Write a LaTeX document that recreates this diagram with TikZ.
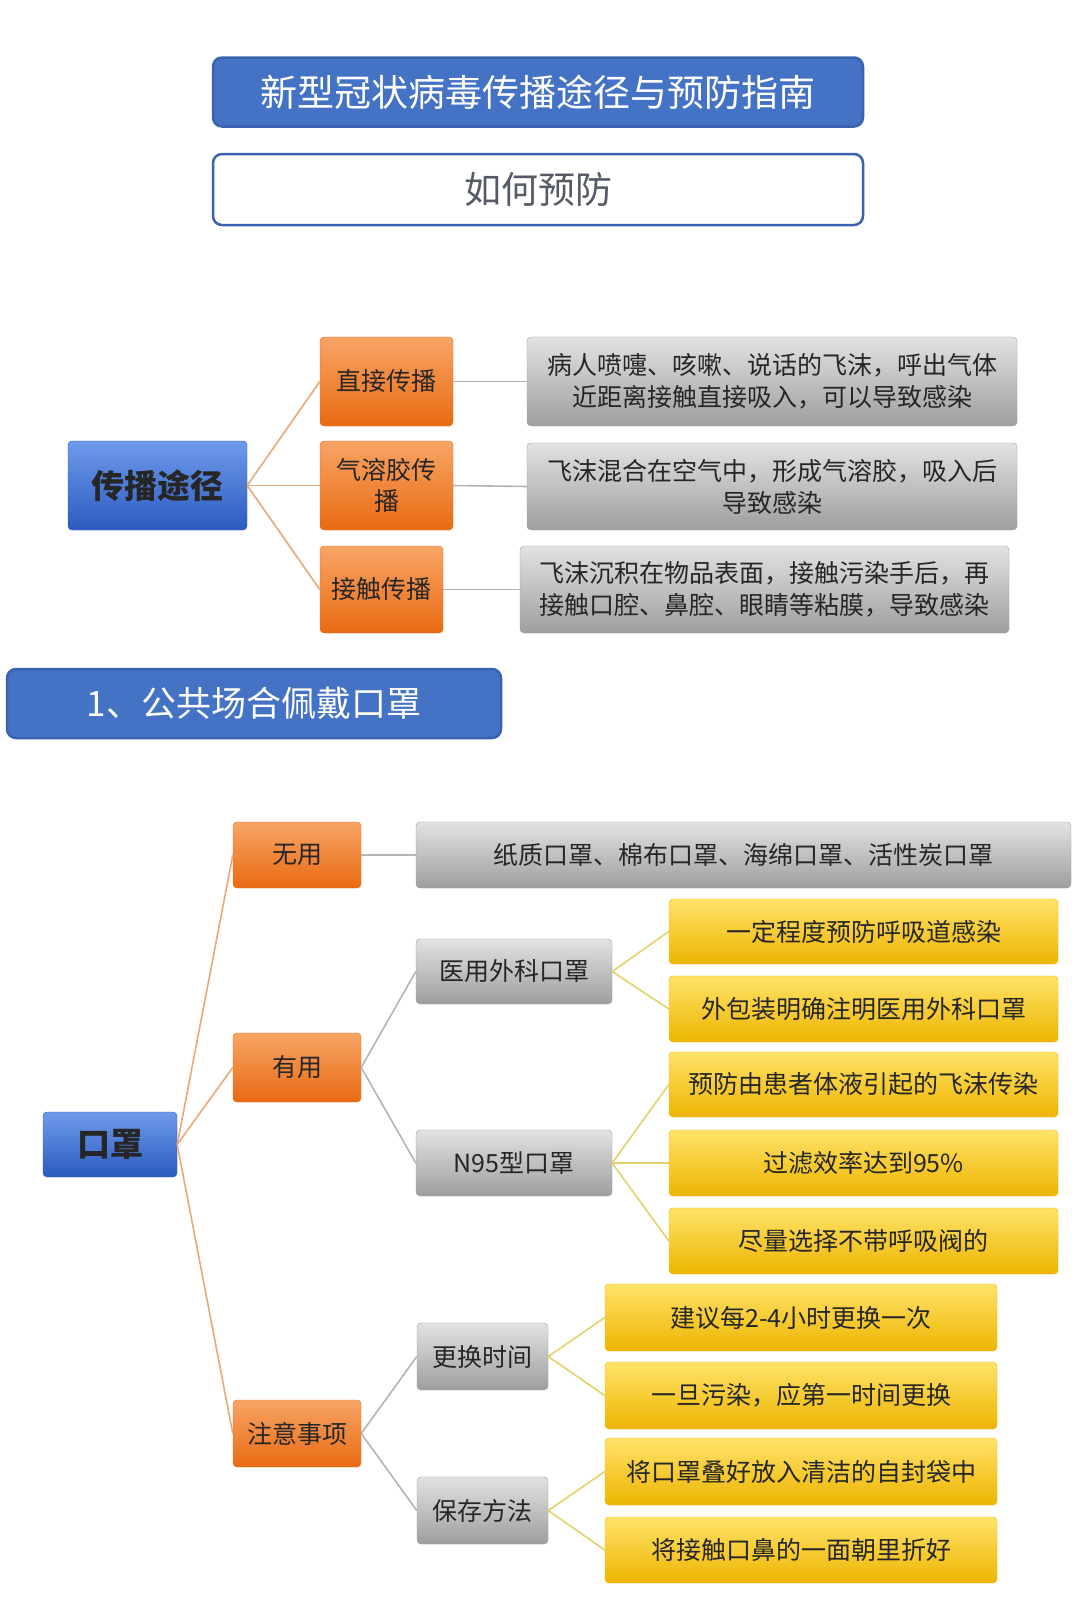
\documentclass[tikz,border=0pt]{standalone}
\usepackage{fontspec}
\setmainfont{Noto Sans CJK SC}
\usetikzlibrary{calc}

\definecolor{titleBlue}{HTML}{4472C4}
\definecolor{titleEdge}{HTML}{3A62B0}
\definecolor{subText}{HTML}{555A66}
\definecolor{rootTop}{HTML}{6E9BEA}
\definecolor{rootMid}{HTML}{3A6FD6}
\definecolor{rootBot}{HTML}{2B5AC0}
\definecolor{orangeTop}{HTML}{F7A565}
\definecolor{orangeMid}{HTML}{F27D26}
\definecolor{orangeBot}{HTML}{E96A12}
\definecolor{greyTop}{HTML}{E2E2E2}
\definecolor{greyMid}{HTML}{ABABAB}
\definecolor{greyBot}{HTML}{9E9E9E}
\definecolor{yellowTop}{HTML}{FFE36A}
\definecolor{yellowMid}{HTML}{F7C400}
\definecolor{yellowBot}{HTML}{EDB500}
\definecolor{lineOrange}{HTML}{E9A878}
\definecolor{lineGrey}{HTML}{B4B4B4}
\definecolor{lineYellow}{HTML}{E2D46A}
\definecolor{inkDark}{HTML}{262626}

\tikzset{
	headbox/.style = {draw=titleEdge, line width=2.5pt, rounded corners=9pt, inner sep=0pt, minimum height=69, align=center},
	rootbox/.style = {top color=rootTop, middle color=rootMid, bottom color=rootBot, draw=rootBot, rounded corners=4pt, inner sep=0pt, text=inkDark, font=\fontsize{33}{36}\selectfont\bfseries},
	orangebox/.style = {top color=orangeTop, middle color=orangeMid, bottom color=orangeBot, draw=orangeBot, rounded corners=4pt, inner sep=0pt, align=center, text=inkDark, font=\fontsize{25}{31}\selectfont},
	greybox/.style = {top color=greyTop, middle color=greyMid, bottom color=greyBot, draw=greyBot, rounded corners=4pt, inner sep=0pt, align=center, text=inkDark, font=\fontsize{25}{32}\selectfont},
	yellowbox/.style = {top color=yellowTop, middle color=yellowMid, bottom color=yellowBot, draw=yellowBot, rounded corners=4pt, inner sep=0pt, minimum width=389, minimum height=65, text=inkDark, font=\fontsize{25}{30}\selectfont},
	orangelink/.style = {draw=lineOrange, line width=1.6pt},
	greylink/.style = {draw=lineGrey, line width=1.6pt},
	yellowlink/.style = {draw=lineYellow, line width=1.6pt}
}

\begin{document}
\begin{tikzpicture}[x=1pt, y=-1pt]

	\useasboundingbox [fill=white] (0,0) rectangle (1080,1615);

	% headings
	\node [headbox, fill=titleBlue, text=white, minimum width=650, font=\fontsize{37}{40}\selectfont] (title) at (538,92) {新型冠状病毒传播途径与预防指南};
	\node [headbox, fill=white, text=subText, minimum width=650, minimum height=71, font=\fontsize{37}{40}\selectfont] (howTo) at (538,189.5) {如何预防};

	% transmission routes
	\node [rootbox, minimum width=179, minimum height=89] (route) at (157.5,485.5) {传播途径};
	\node [orangebox, minimum width=133, minimum height=89] (direct) at (386.5,381.5) {直接传播};
	\node [orangebox, minimum width=133, minimum height=89] (aerosol) at (386.5,485.5) {气溶胶传\\播};
	\node [orangebox, minimum width=123, minimum height=87] (contact) at (381.5,589.5) {接触传播};

	\node [greybox, minimum width=490, minimum height=89] (directText) at (772,381.5) {病人喷嚏、咳嗽、说话的飞沫，呼出气体\\近距离接触直接吸入，可以导致感染};
	\node [greybox, minimum width=490, minimum height=87] (aerosolText) at (772,486.5) {飞沫混合在空气中，形成气溶胶，吸入后\\导致感染};
	\node [greybox, minimum width=489, minimum height=87] (contactText) at (764.5,589.5) {飞沫沉积在物品表面，接触污染手后，再\\接触口腔、鼻腔、眼睛等粘膜，导致感染};

	\foreach \kind in {direct, aerosol, contact} {
		\draw [orangelink] (route.east) -- (\kind.west);
		\draw [greylink] (\kind.east) -- (\kind Text.west);
	}

	% section heading
	\node [headbox, fill=titleBlue, text=white, minimum width=494, font=\fontsize{35}{38}\selectfont] (sectionOne) at (254,703.5) {1、公共场合佩戴口罩};

	% masks
	\node [rootbox, minimum width=134, minimum height=65] (mask) at (110,1144.5) {口罩};
	\node [orangebox, minimum width=128, minimum height=66] (useless) at (297,855) {无用};
	\node [orangebox, minimum width=128, minimum height=69] (useful) at (297,1067.5) {有用};
	\node [orangebox, minimum width=128, minimum height=67] (notes) at (297,1433.5) {注意事项};

	\node [greybox, minimum width=655, minimum height=66] (uselessText) at (743.5,855) {纸质口罩、棉布口罩、海绵口罩、活性炭口罩};
	\node [greybox, minimum width=196, minimum height=65] (surgical) at (514,971.5) {医用外科口罩};
	\node [greybox, minimum width=196, minimum height=66] (nNinetyFive) at (514,1163) {N95型口罩};
	\node [greybox, minimum width=131, minimum height=67] (change) at (482.5,1356.5) {更换时间};
	\node [greybox, minimum width=131, minimum height=67] (keep) at (482.5,1510.5) {保存方法};

	\node [yellowbox] (surgicalA) at (863.5,931.5) {一定程度预防呼吸道感染};
	\node [yellowbox, minimum height=66] (surgicalB) at (863.5,1009) {外包装明确注明医用外科口罩};
	\node [yellowbox] (nA) at (863.5,1084.5) {预防由患者体液引起的飞沫传染};
	\node [yellowbox, minimum height=66] (nB) at (863.5,1163) {过滤效率达到95\%};
	\node [yellowbox, minimum height=66] (nC) at (863.5,1241) {尽量选择不带呼吸阀的};
	\node [yellowbox, minimum width=392, minimum height=67] (changeA) at (801,1317.5) {建议每2-4小时更换一次};
	\node [yellowbox, minimum width=392, minimum height=67] (changeB) at (801,1395.5) {一旦污染，应第一时间更换};
	\node [yellowbox, minimum width=392, minimum height=67] (keepA) at (801,1471.5) {将口罩叠好放入清洁的自封袋中};
	\node [yellowbox, minimum width=392, minimum height=66] (keepB) at (801,1550) {将接触口鼻的一面朝里折好};

	% connectors
	\foreach \kind in {useless, useful, notes}
		\draw [orangelink] (mask.east) -- (\kind.west);
	\draw [greylink] (useless.east) -- (uselessText.west);
	\draw [greylink] (useful.east) -- (surgical.west);
	\draw [greylink] (useful.east) -- (nNinetyFive.west);
	\draw [greylink] (notes.east) -- (change.west);
	\draw [greylink] (notes.east) -- (keep.west);

	\foreach \tip in {surgicalA, surgicalB}
		\draw [yellowlink] (surgical.east) -- (\tip.west);
	\foreach \tip in {nA, nB, nC}
		\draw [yellowlink] (nNinetyFive.east) -- (\tip.west);
	\foreach \tip in {changeA, changeB}
		\draw [yellowlink] (change.east) -- (\tip.west);
	\foreach \tip in {keepA, keepB}
		\draw [yellowlink] (keep.east) -- (\tip.west);

\end{tikzpicture}
\end{document}
